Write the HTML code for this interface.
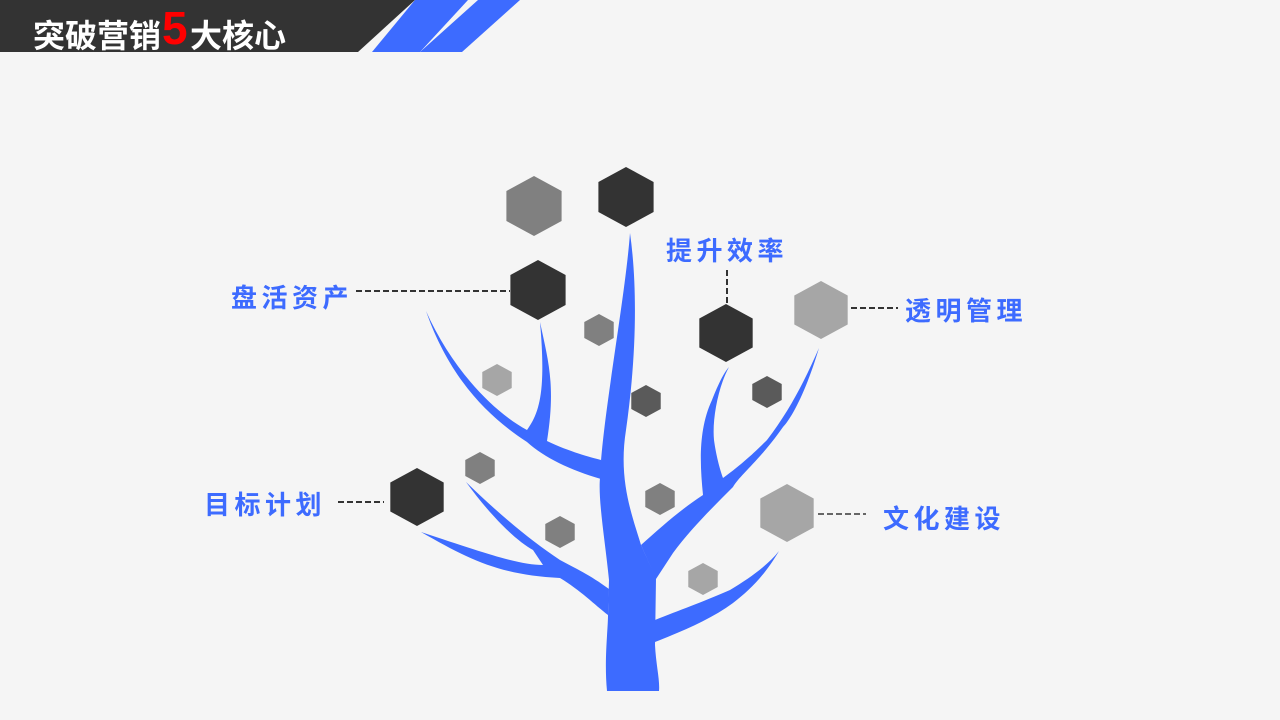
<!DOCTYPE html>
<html><head><meta charset="utf-8"><style>
body{margin:0;width:1280px;height:720px;background:#f5f5f5;overflow:hidden;font-family:"Liberation Sans","Noto Sans CJK SC",sans-serif}
.t{position:absolute;color:#3d6bff;font-weight:bold;font-size:26px;letter-spacing:4.5px;white-space:nowrap}
</style></head><body>
<svg width="1280" height="720" style="position:absolute;left:0;top:0">
<polygon points="0,0 415,0 358,52 0,52" fill="#333"/>
<polygon points="415,0 468,0 420,52 372,52" fill="#3d6bff"/>
<polygon points="478,0 520,0 462,52 420,52" fill="#3d6bff"/>
<text x="33" y="47" fill="#fff" font-size="32" font-weight="bold" font-family="Liberation Sans,Noto Sans CJK SC,sans-serif">突破营销</text>
<text x="162" y="44" fill="#ff0000" font-size="46" font-weight="bold" font-family="Liberation Sans,sans-serif">5</text>
<text x="190" y="47" fill="#fff" font-size="32" font-weight="bold" font-family="Liberation Sans,Noto Sans CJK SC,sans-serif">大核心</text>
<g fill="#3d6bff">
<path d="M607,691 C604,660 608,630 608,615 L609,580 C605,540 598,500 600,478 C602,420 625,300 630,233 C638,290 636,360 626,430 C618,480 632,515 641,545 L656,578 L655,645 C656,665 660,680 659,691 Z"/>
<path d="M601,479 C570,470 545,458 527,442 C490,418 450,380 426,311 C450,365 490,410 527,430 C540,412 546,390 540,322 C548,360 556,385 547,441 C570,452 590,457 601,460 Z"/>
<path d="M641,545 C660,528 680,510 703,495 C700,465 698,430 712,400 C716,390 722,375 729,367 C718,387 712,420 714,440 C716,455 720,470 723,478 C745,462 760,447 767,440 C790,410 805,380 819,348 C805,395 790,420 783,427 C760,460 740,475 733,487 C710,510 690,530 673,553 L656,579 Z"/>
<path d="M609,589 C590,575 575,568 560,560 C530,540 500,515 466,482 C490,515 515,540 533,550 L543,565 C520,565 490,555 421,532 C470,560 500,575 560,578 C580,590 595,605 608,615 Z"/>
<path d="M655,620 C680,610 700,603 730,590 C750,578 768,565 779,551 C765,575 750,590 733,603 C710,620 680,632 655,642 Z"/>
</g>
<g stroke="#333" stroke-width="2" stroke-dasharray="6,3">
<line x1="356" y1="291" x2="510" y2="291"/>
<line x1="727" y1="270" x2="727" y2="303"/>
<line x1="851" y1="308" x2="898" y2="308"/>
<line x1="338" y1="502" x2="384" y2="502"/>
<line x1="818" y1="514" x2="866" y2="514" stroke="#666"/>
</g>
<g id="h"></g>
</svg>
<div class="t" style="left:231px;top:278px">盘活资产</div>
<div class="t" style="left:666px;top:231px">提升效率</div>
<div class="t" style="left:905px;top:291px">透明管理</div>
<div class="t" style="left:204px;top:485px">目标计划</div>
<div class="t" style="left:883px;top:499px">文化建设</div>
<script>
var H=[[534,206,30,"#808080"],[626,197,30,"#333"],[538,290,30,"#333"],[599,330,16,"#808080"],[497,380,16,"#a6a6a6"],[646,401,16,"#5a5a5a"],[726,333,29,"#333"],[821,310,29,"#a6a6a6"],[767,392,16,"#5a5a5a"],[480,468,16,"#808080"],[417,497,29,"#333"],[560,532,16,"#808080"],[660,499,16,"#808080"],[787,513,29,"#a6a6a6"],[703,579,16,"#a6a6a6"]];
var g=document.getElementById("h"),s="";
H.forEach(function(h){var c=h[0],y=h[1],r=h[2],k=0.92*r;
s+='<polygon fill="'+h[3]+'" points="'+[c,y-r,c+k,y-r/2,c+k,y+r/2,c,y+r,c-k,y+r/2,c-k,y-r/2].join(",")+'"/>';});
g.innerHTML=s;
</script>
</body></html>
